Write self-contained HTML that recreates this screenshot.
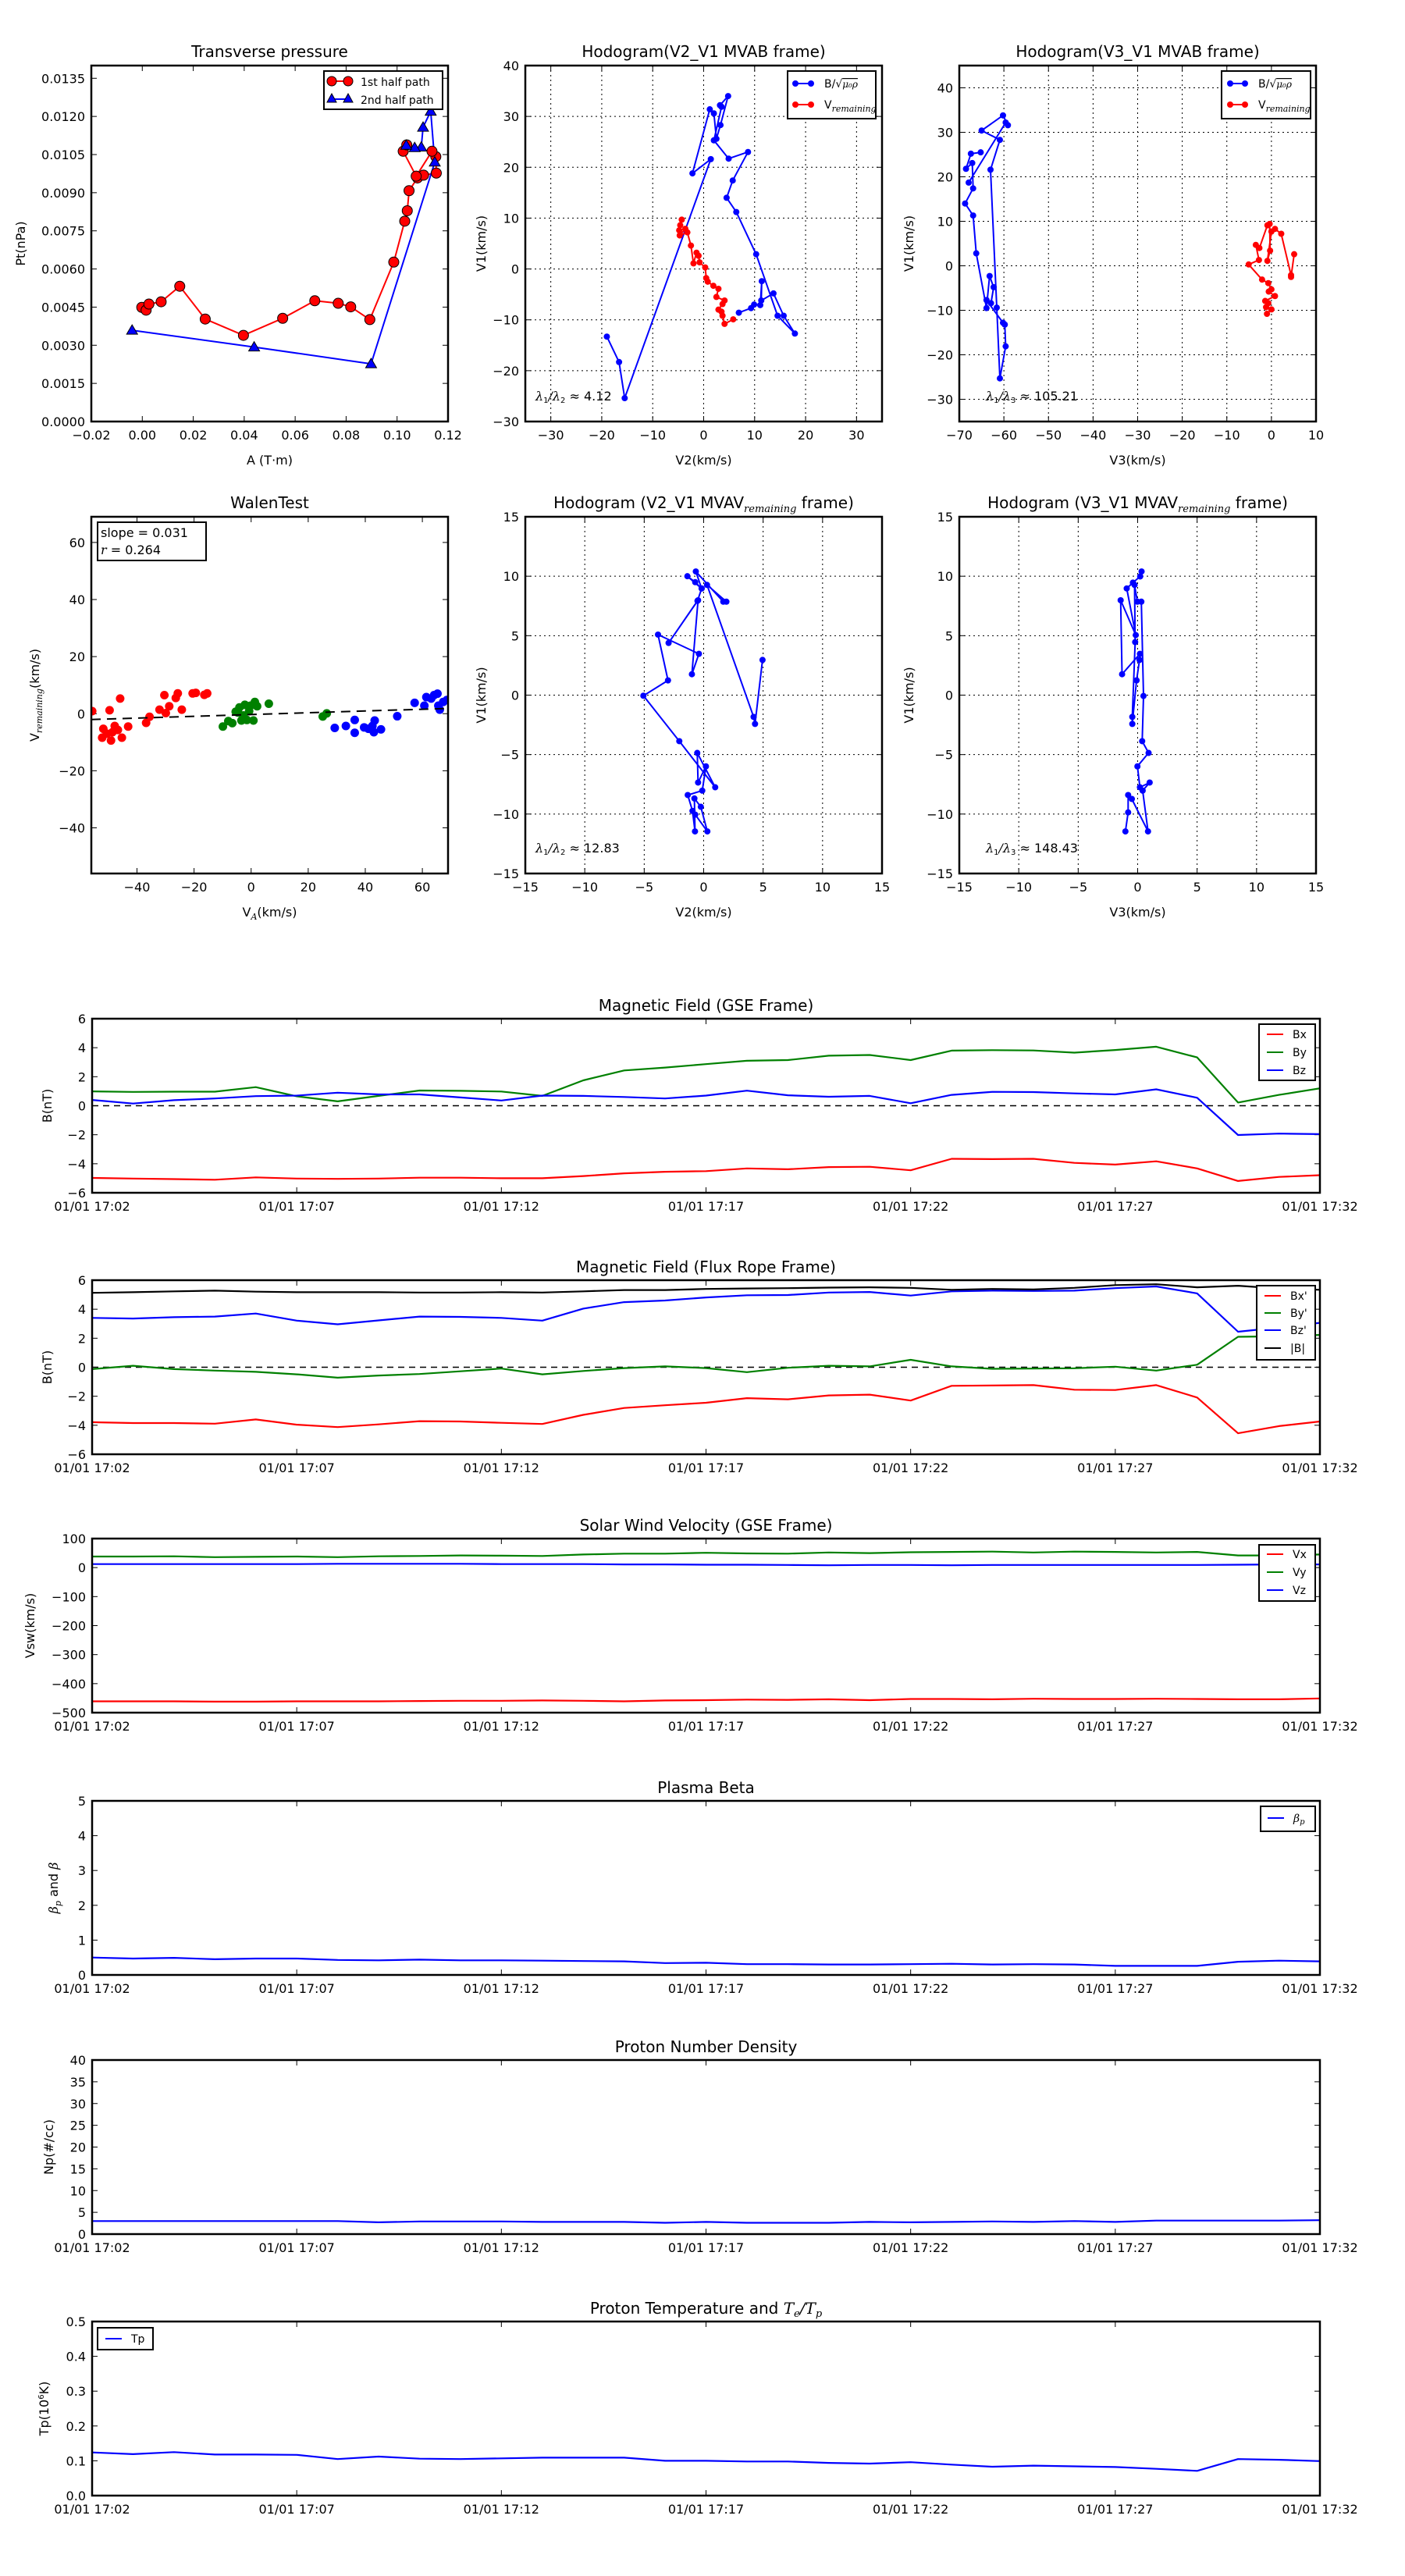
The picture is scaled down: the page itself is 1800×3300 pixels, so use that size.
<!DOCTYPE html>
<html><head><meta charset="utf-8">
<style>
html,body{margin:0;padding:0;background:#fff;}
svg{display:block;font-family:"DejaVu Sans","Liberation Sans",sans-serif;}
.tk{font-size:16px;fill:#000;}
.ttl{font-size:20px;fill:#000;}
.lab{font-size:16px;fill:#000;}
.lg{font-size:14px;fill:#000;}
.mi{font-family:"DejaVu Serif","Liberation Serif",serif;font-style:italic;}
</style></head>
<body>
<svg id="fig" xmlns="http://www.w3.org/2000/svg" width="1800" height="3300" viewBox="0 0 1800 3300">
<rect x="0" y="0" width="1800" height="3300" fill="#fff"/>
</svg>
<script>
// ---------- data ----------
const tpA1 = [-0.0002,0.0015,0.0026,0.0074,0.0147,0.0247,0.0397,0.0551,0.0677,0.0769,0.0818,0.0893,0.0987,0.103,0.104,0.1047,0.108,0.1104,0.1154,0.1152,0.1137,0.1075,0.1024,0.1038];
const tpP1 = [0.00449,0.00438,0.00462,0.00471,0.00532,0.00403,0.00339,0.00406,0.00475,0.00465,0.00451,0.00401,0.00627,0.00788,0.00829,0.00908,0.00958,0.00969,0.00977,0.01042,0.01063,0.00965,0.01063,0.01088];
const tpA2 = [-0.004,0.0439,0.0898,0.1148,0.1132,0.1102,0.1095,0.1069,0.1036];
const tpP2 = [0.00359,0.00293,0.00227,0.0102,0.0122,0.01157,0.01079,0.01077,0.01086];

const h1bx = [-19.0,-16.6,-15.5,1.4,-2.2,1.2,2.0,2.5,3.3,4.8,3.2,3.5,2.0,4.9,8.7,5.7,4.5,6.4,10.3,14.5,17.9,15.7,13.7,11.3,11.4,11.1,9.9,9.3,6.9];
const h1by = [-13.3,-18.3,-25.4,21.6,18.8,31.4,30.6,25.6,28.3,34.0,32.2,31.9,25.3,21.7,23.0,17.4,14.0,11.2,2.9,-9.2,-12.7,-9.2,-4.8,-6.2,-2.4,-7.1,-7.0,-7.7,-8.6];
const h1rx = [-4.3,-4.6,-4.8,-3.6,-4.7,-3.2,-2.5,-2.0,-1.4,-1.0,-0.8,0.3,0.5,0.8,1.9,2.9,2.5,4.1,3.7,2.9,3.5,3.7,4.1,5.8];
const h1ry = [9.7,8.6,7.6,7.9,6.6,7.2,4.6,1.1,3.2,2.6,1.3,0.3,-1.8,-2.5,-3.3,-3.9,-5.5,-6.2,-6.9,-8.0,-8.4,-9.2,-10.8,-9.9];

const h2bx = [-65.2,-67.4,-68.5,-67.1,-66.9,-68.7,-66.9,-66.2,-63.9,-63.2,-62.3,-62.9,-63.9,-60.2,-59.8,-59.6,-60.9,-61.6,-63.0,-60.9,-65.0,-60.2,-59.1,-59.6,-67.9];
const h2by = [25.5,25.2,21.8,23.1,17.4,14.0,11.3,2.8,-9.5,-2.3,-4.8,-8.4,-7.7,-12.8,-13.2,-18.1,-25.3,-9.4,21.6,28.3,30.4,33.8,31.6,32.2,18.7];
const h2rx = [-1.0,0.0,-1.2,-0.7,-1.4,0.8,-0.6,0.0,-0.7,-2.1,-5.1,-2.8,-3.5,-2.7,-0.9,-0.4,-0.3,-0.9,0.0,0.8,2.2,4.4,4.4,5.1];
const h2ry = [-10.8,-9.8,-9.3,-8.4,-7.9,-6.8,-5.8,-5.3,-3.9,-3.1,0.3,1.3,4.7,4.0,9.1,9.4,3.4,1.1,7.7,8.3,7.2,-2.1,-2.5,2.6];

const wRedX = [-55.7,-49.6,-45.9,-51.8,-52.2,-49.1,-50.6,-47.8,-46.7,-45.3,-48.6,-43.1,-36.8,-35.6,-32.1,-30.4,-29.9,-28.7,-26.4,-25.7,-24.3,-20.5,-19.4,-16.4,-15.4];
const wRedY = [0.9,1.2,5.3,-5.3,-8.4,-9.4,-7.0,-4.3,-5.7,-8.4,-6.5,-4.5,-3.2,-1.1,1.4,6.5,0.2,2.6,5.5,7.1,1.4,7.1,7.3,6.6,7.1];
const wGreenX = [-9.9,-8.0,-6.6,-5.4,-4.1,-3.4,-2.2,-1.5,-0.7,-0.2,0.8,1.3,2.1,-4.6,-2.7,6.2,25.1,26.5];
const wGreenY = [-4.5,-2.6,-3.3,0.7,2.2,-2.4,3.1,-2.2,0.9,2.8,-2.4,4.1,2.6,0.4,-0.6,3.5,-1.0,0.1];
const wBlueX = [29.3,33.2,36.3,36.3,39.6,41.1,42.5,43.3,43.0,45.5,51.2,57.3,60.7,61.4,64.1,65.3,65.6,66.1,67.3,68.6,63.1];
const wBlueY = [-5.0,-4.3,-2.2,-6.7,-4.8,-5.3,-4.3,-2.4,-6.5,-5.5,-0.9,3.8,2.8,5.8,6.5,7.0,2.8,1.4,4.1,4.8,5.3];
const wSlope = 0.031, wIntercept = -0.3;

const h3x = [4.95,4.32,4.2,0.28,1.91,1.65,-0.66,-0.17,-1.37,-0.71,-0.17,-0.52,-2.95,-0.47,-0.99,-0.4,-3.84,-3.0,-5.07,-2.05,0.97,-0.54,-0.47,0.19,-0.12,-1.34,-0.94,-0.73,-0.78,-0.24,0.31,-0.71];
const h3y = [2.96,-2.42,-1.83,9.27,7.86,7.86,10.4,8.97,10.0,9.5,8.97,7.93,4.39,7.98,1.76,3.47,5.09,1.24,-0.05,-3.87,-7.75,-4.86,-7.35,-5.99,-8.03,-8.4,-9.74,-11.46,-8.69,-9.39,-11.46,-10.05];
const h4x = [0.33,0.21,-0.4,-0.92,-0.16,-1.43,-1.31,0.19,0.16,-0.09,-0.45,-0.45,-0.21,-0.26,-0.02,0.31,0.49,0.38,0.92,-0.02,0.19,1.01,0.42,0.87,-0.49,-0.8,-0.8,-1.03];
const h4y = [10.4,9.98,9.46,8.97,5.05,7.98,1.76,3.47,2.96,1.24,-2.42,-1.83,4.46,9.27,7.86,7.86,-0.07,-3.87,-4.86,-5.99,-7.75,-7.35,-8.03,-11.46,-8.73,-8.4,-9.86,-11.46];

const timeLabels = ['01/01 17:02','01/01 17:07','01/01 17:12','01/01 17:17','01/01 17:22','01/01 17:27','01/01 17:32'];
const bx = [-4.98,-5.02,-5.06,-5.1,-4.94,-5.02,-5.04,-5.02,-4.96,-4.96,-5.0,-5.0,-4.85,-4.66,-4.55,-4.51,-4.32,-4.38,-4.23,-4.21,-4.45,-3.66,-3.68,-3.66,-3.94,-4.06,-3.83,-4.32,-5.19,-4.91,-4.79];
const by = [0.99,0.95,0.97,0.97,1.28,0.65,0.3,0.68,1.05,1.03,0.98,0.68,1.75,2.43,2.63,2.87,3.1,3.15,3.45,3.5,3.15,3.8,3.83,3.81,3.66,3.84,4.07,3.33,0.22,0.75,1.2];
const bz = [0.4,0.15,0.38,0.5,0.66,0.7,0.9,0.78,0.78,0.57,0.36,0.7,0.68,0.6,0.5,0.7,1.04,0.72,0.62,0.68,0.17,0.75,0.96,0.94,0.85,0.78,1.13,0.55,-2.02,-1.92,-1.96];
const bxp = [-3.79,-3.85,-3.85,-3.89,-3.6,-3.96,-4.13,-3.94,-3.72,-3.74,-3.83,-3.91,-3.28,-2.81,-2.62,-2.45,-2.13,-2.21,-1.94,-1.89,-2.3,-1.28,-1.26,-1.23,-1.55,-1.57,-1.23,-2.09,-4.55,-4.06,-3.74];
const byp = [-0.13,0.1,-0.13,-0.23,-0.32,-0.49,-0.72,-0.57,-0.47,-0.28,-0.09,-0.49,-0.26,-0.06,0.06,-0.06,-0.34,-0.04,0.1,0.06,0.51,0.06,-0.11,-0.09,-0.07,0.04,-0.23,0.17,2.1,2.13,2.23];
const bzp = [3.4,3.36,3.45,3.49,3.7,3.21,2.96,3.23,3.49,3.47,3.4,3.21,4.04,4.49,4.6,4.81,4.96,4.98,5.15,5.19,4.94,5.23,5.28,5.26,5.28,5.45,5.57,5.09,2.45,2.74,3.06];
const bmag = [5.13,5.17,5.23,5.28,5.21,5.17,5.17,5.17,5.15,5.15,5.17,5.15,5.23,5.32,5.32,5.4,5.43,5.45,5.49,5.51,5.47,5.34,5.4,5.36,5.47,5.66,5.72,5.51,5.62,5.43,5.34];
const vx = [-461,-461,-461,-462,-462,-461,-461,-461,-460,-459,-459,-458,-459,-461,-458,-457,-455,-456,-454,-457,-453,-453,-454,-452,-453,-453,-452,-453,-454,-454,-451];
const vy = [38,38,39,36,37,38,36,39,40,42,41,40,45,48,48,51,49,48,52,50,53,54,55,52,55,54,52,54,42,42,45];
const vz = [12,12,12,12,12,12,13,13,13,13,12,12,12,11,11,10,10,9,8,9,9,8,9,9,9,9,9,9,10,11,11];
const beta = [0.5,0.47,0.49,0.45,0.47,0.47,0.43,0.42,0.44,0.42,0.42,0.41,0.4,0.39,0.34,0.35,0.31,0.31,0.3,0.3,0.31,0.32,0.3,0.31,0.3,0.26,0.26,0.26,0.38,0.41,0.39];
const np = [3.0,3.0,3.0,3.0,3.0,3.0,3.0,2.7,2.9,2.9,2.9,2.8,2.8,2.8,2.6,2.8,2.6,2.6,2.6,2.8,2.7,2.8,2.9,2.8,3.0,2.8,3.1,3.1,3.1,3.1,3.2];
const tp = [0.124,0.119,0.125,0.118,0.118,0.117,0.105,0.112,0.106,0.105,0.107,0.109,0.109,0.109,0.1,0.1,0.098,0.098,0.094,0.092,0.096,0.089,0.083,0.086,0.084,0.082,0.077,0.071,0.105,0.103,0.099];

// ---------- helpers ----------
const NS = 'http://www.w3.org/2000/svg';
const svg = document.getElementById('fig');
function mk(tag, attrs, parent){
  const e = document.createElementNS(NS, tag);
  for (const k in attrs) e.setAttribute(k, attrs[k]);
  (parent || svg).appendChild(e);
  return e;
}
function txt(s, attrs, parent){ const e = mk('text', attrs, parent); e.textContent = s; return e; }
function minus(s){ return String(s).replace('-', '\u2212'); }
let clipId = 0;

function axes(o){
  const sx = v => o.x0 + (v - o.xd[0]) / (o.xd[1] - o.xd[0]) * (o.x1 - o.x0);
  const sy = v => o.y1 - (v - o.yd[0]) / (o.yd[1] - o.yd[0]) * (o.y1 - o.y0);
  const g = mk('g', {});
  
  
  // grid
  if (o.grid){
    o.xt.forEach(v => {
      const l = mk('line', {x1:sx(v), x2:sx(v), y1:o.y0, y2:o.y1, stroke:'#000', 'stroke-width':1, 'stroke-dasharray':'2,4'}, g);
      
      
    });
    o.yt.forEach(v => {
      const l = mk('line', {x1:o.x0, x2:o.x1, y1:sy(v), y2:sy(v), stroke:'#000', 'stroke-width':1, 'stroke-dasharray':'2,4'}, g);
      
      
    });
  }
  // ticks + labels
  o.xt.forEach((v, i) => {
    const X = sx(v);
    mk('line', {x1:X, x2:X, y1:o.y1, y2:o.y1 - 7, stroke:'#000', 'stroke-width':1}, g);
    mk('line', {x1:X, x2:X, y1:o.y0, y2:o.y0 + 7, stroke:'#000', 'stroke-width':1}, g);
    const t = txt(o.xl ? o.xl[i] : minus(o.xf(v)), {x:X, y:o.y1 + 23, 'text-anchor':'middle', class:'tk'}, g);
    
    
  });
  o.yt.forEach(v => {
    const Y = sy(v);
    mk('line', {x1:o.x0, x2:o.x0 + 7, y1:Y, y2:Y, stroke:'#000', 'stroke-width':1}, g);
    mk('line', {x1:o.x1, x2:o.x1 - 7, y1:Y, y2:Y, stroke:'#000', 'stroke-width':1}, g);
    const t = txt(minus(o.yf(v)), {x:o.x0 - 8, y:Y + 6, 'text-anchor':'end', class:'tk'}, g);
    
    
  });
  clipId++;
  const cp = mk('clipPath', {id:'c' + clipId}, g);
  mk('rect', {x:o.x0, y:o.y0, width:o.x1 - o.x0, height:o.y1 - o.y0}, cp);
  const plot = mk('g', {'clip-path':'url(#c' + clipId + ')'}, g);
  
  
  const fr = mk('rect', {x:o.x0, y:o.y0, width:o.x1 - o.x0, height:o.y1 - o.y0, fill:'none', stroke:'#000', 'stroke-width':2.5}, g);
  
  
  // title
  if (o.title){
    const t = txt('', {x:(o.x0 + o.x1) / 2, y:o.y0 - (o.tOff || 11), 'text-anchor':'middle', class:'ttl'}, g);
    t.innerHTML = o.title;
    
    
  }
  if (o.xlabel){
    const t = txt('', {x:(o.x0 + o.x1) / 2, y:o.y1 + 55, 'text-anchor':'middle', class:'lab'}, g);
    t.innerHTML = o.xlabel;
    
    
  }
  if (o.ylabel){
    const cy = (o.y0 + o.y1) / 2;
    const t = txt('', {x:o.ylx, y:cy, 'text-anchor':'middle', class:'lab', transform:'rotate(-90 ' + o.ylx + ' ' + cy + ')'}, g);
    t.innerHTML = o.ylabel;
    
    
  }
  return {sx, sy, g, plot};
}
function range(a, b, s){ const r = []; for (let v = a; v <= b + s * 1e-6; v += s) r.push(Math.round(v * 1e6) / 1e6); return r; }
function pathD(ax, xs, ys){ return xs.map((v, i) => (i ? 'L' : 'M') + ax.sx(v).toFixed(1) + ',' + ax.sy(ys[i]).toFixed(1)).join(''); }
function series(ax, xs, ys, color, name, dot, w){
  const p = mk('path', {d:pathD(ax, xs, ys), fill:'none', stroke:color, 'stroke-width':w || 2, 'stroke-linejoin':'round'}, ax.plot);
  
  
  if (dot){
    xs.forEach((v, i) => {
      const c = mk('circle', {cx:ax.sx(v), cy:ax.sy(ys[i]), r:dot, fill:color}, ax.plot);
      
      
    });
  }
}
function boxLegend(x, y, w, h){
  const r = mk('rect', {x, y, width:w, height:h, fill:'#fff', stroke:'#000', 'stroke-width':2});
  
  
}
function legLine(x1, x2, y, color, label, tx, dots){
  const l = mk('line', {x1, x2, y1:y, y2:y, stroke:color, 'stroke-width':2});
  
  
  if (dots){ mk('circle', {cx:x1, cy:y, r:4, fill:color}); mk('circle', {cx:x2, cy:y, r:4, fill:color}); }
  const t = txt('', {x:tx, y:y + 5, class:'lg'});
  t.innerHTML = label;
  
  
}
const VREM = 'V<tspan class="mi" font-size="11" dy="4">remaining</tspan>';
const BSQ = 'B/<tspan class="mi">√</tspan><tspan class="mi" text-decoration="overline" font-size="12">μ₀ρ</tspan>';

// ---------- Row 1 ----------
const a1 = axes({name:'transverse-pressure-chart', x0:117, x1:574, y0:84, y1:540, xd:[-0.02,0.12], yd:[0,0.014],
  xt:range(-0.02,0.12,0.02), yt:range(0,0.0135,0.0015), xf:v => v.toFixed(2), yf:v => v.toFixed(4),
  title:'Transverse pressure', xlabel:'A (T·m)', ylabel:'Pt(nPa)', ylx:32});
series(a1, tpA1, tpP1, '#f00', 'first-half-path', 0, 2);
series(a1, tpA2, tpP2, '#00f', 'second-half-path', 0, 2);
tpA1.forEach((v, i) => {
  const c = mk('circle', {cx:a1.sx(v), cy:a1.sy(tpP1[i]), r:6.5, fill:'#f00', stroke:'#000', 'stroke-width':1}, a1.plot);
  
  
});
tpA2.forEach((v, i) => {
  const X = a1.sx(v), Y = a1.sy(tpP2[i]);
  const c = mk('polygon', {points:(X) + ',' + (Y - 7) + ' ' + (X - 7) + ',' + (Y + 5) + ' ' + (X + 7) + ',' + (Y + 5), fill:'#00f', stroke:'#000', 'stroke-width':1}, a1.plot);
  
  
});
boxLegend(415, 91, 152, 49);
mk('line', {x1:425, x2:446, y1:104, y2:104, stroke:'#f00', 'stroke-width':2});
mk('circle', {cx:425, cy:104, r:6, fill:'#f00', stroke:'#000'}); mk('circle', {cx:446, cy:104, r:6, fill:'#f00', stroke:'#000'});
mk('line', {x1:425, x2:446, y1:127, y2:127, stroke:'#00f', 'stroke-width':2});
mk('polygon', {points:'425,120 419,131 431,131', fill:'#00f', stroke:'#000'}); mk('polygon', {points:'446,120 440,131 452,131', fill:'#00f', stroke:'#000'});
(function(){ const t = txt('1st half path', {x:462, y:110, class:'lg'});  
  const u = txt('2nd half path', {x:462, y:133, class:'lg'});   })();

const a2 = axes({name:'hodogram-v2-v1-mvab', x0:673, x1:1130, y0:84, y1:540, xd:[-35,35], yd:[-30,40],
  xt:range(-30,30,10), yt:range(-30,40,10), xf:v => String(v), yf:v => String(v), grid:true,
  title:'Hodogram(V2_V1 MVAB frame)', xlabel:'V2(km/s)', ylabel:'V1(km/s)', ylx:622});
series(a2, h1bx, h1by, '#00f', 'b-alfven', 4, 2);
series(a2, h1rx, h1ry, '#f00', 'v-remaining', 4, 2);
boxLegend(1009, 91, 113, 61);
legLine(1019, 1039, 107, '#00f', BSQ, 1056, true);
legLine(1019, 1039, 134, '#f00', VREM, 1056, true);
(function(){ const t = txt('', {x:686, y:513, class:'lab'}); t.innerHTML = '<tspan class="mi">λ</tspan><tspan font-size="10" dy="3">1</tspan><tspan dy="-3" class="mi">/λ</tspan><tspan font-size="10" dy="3">2</tspan><tspan dy="-3"> ≈ 4.12</tspan>';   })();

const a3 = axes({name:'hodogram-v3-v1-mvab', x0:1229, x1:1686, y0:84, y1:540, xd:[-70,10], yd:[-35,45],
  xt:range(-70,10,10), yt:range(-30,40,10), xf:v => String(v), yf:v => String(v), grid:true,
  title:'Hodogram(V3_V1 MVAB frame)', xlabel:'V3(km/s)', ylabel:'V1(km/s)', ylx:1170});
series(a3, h2bx, h2by, '#00f', 'b-alfven', 4, 2);
series(a3, h2rx, h2ry, '#f00', 'v-remaining', 4, 2);
boxLegend(1565, 91, 114, 61);
legLine(1576, 1595, 107, '#00f', BSQ, 1612, true);
legLine(1576, 1595, 134, '#f00', VREM, 1612, true);
(function(){ const t = txt('', {x:1263, y:513, class:'lab'}); t.innerHTML = '<tspan class="mi">λ</tspan><tspan font-size="10" dy="3">1</tspan><tspan dy="-3" class="mi">/λ</tspan><tspan font-size="10" dy="3">3</tspan><tspan dy="-3"> ≈ 105.21</tspan>';   })();

// ---------- Row 2 ----------
const a4 = axes({name:'walen-test-chart', x0:117, x1:574, y0:662, y1:1119, xd:[-56,69], yd:[-56,69],
  xt:range(-40,60,20), yt:range(-40,60,20), xf:v => String(v), yf:v => String(v),
  title:'WalenTest', xlabel:'V<tspan class="mi" font-size="11" dy="4">A</tspan><tspan dy="-4">(km/s)</tspan>', ylabel:VREM + '<tspan dy="-4">(km/s)</tspan>', ylx:50});
[[wRedX, wRedY, '#f00', 'walen-red'], [wGreenX, wGreenY, '#008000', 'walen-green'], [wBlueX, wBlueY, '#00f', 'walen-blue']].forEach(s => {
  s[0].forEach((v, i) => {
    const c = mk('circle', {cx:a4.sx(v), cy:a4.sy(s[1][i]), r:5.5, fill:s[2]}, a4.plot);
    
    
  });
});
(function(){ const l = mk('line', {x1:a4.sx(-56), x2:a4.sx(69), y1:a4.sy(wSlope * -56 + wIntercept), y2:a4.sy(wSlope * 69 + wIntercept), stroke:'#000', 'stroke-width':2, 'stroke-dasharray':'12,8'}, a4.plot);
    })();
boxLegend(125, 669, 139, 49);
(function(){ const t = txt('slope = 0.031', {x:129, y:688, class:'lab'});  
  const u = txt('', {x:129, y:710, class:'lab'}); u.innerHTML = '<tspan class="mi">r</tspan> = 0.264';   })();

const a5 = axes({name:'hodogram-v2-v1-mvav', x0:673, x1:1130, y0:662, y1:1119, xd:[-15,15], yd:[-15,15],
  xt:range(-15,15,5), yt:range(-15,15,5), xf:v => String(v), yf:v => String(v), grid:true,
  title:'Hodogram (V2_V1 MVAV<tspan class="mi" font-size="13" dy="5">remaining</tspan><tspan dy="-5"> frame)</tspan>', xlabel:'V2(km/s)', ylabel:'V1(km/s)', ylx:622});
series(a5, h3x, h3y, '#00f', 'hodogram-mvav-v2', 4, 2);
(function(){ const t = txt('', {x:686, y:1092, class:'lab'}); t.innerHTML = '<tspan class="mi">λ</tspan><tspan font-size="10" dy="3">1</tspan><tspan dy="-3" class="mi">/λ</tspan><tspan font-size="10" dy="3">2</tspan><tspan dy="-3"> ≈ 12.83</tspan>';   })();

const a6 = axes({name:'hodogram-v3-v1-mvav', x0:1229, x1:1686, y0:662, y1:1119, xd:[-15,15], yd:[-15,15],
  xt:range(-15,15,5), yt:range(-15,15,5), xf:v => String(v), yf:v => String(v), grid:true,
  title:'Hodogram (V3_V1 MVAV<tspan class="mi" font-size="13" dy="5">remaining</tspan><tspan dy="-5"> frame)</tspan>', xlabel:'V3(km/s)', ylabel:'V1(km/s)', ylx:1170});
series(a6, h4x, h4y, '#00f', 'hodogram-mvav-v3', 4, 2);
(function(){ const t = txt('', {x:1263, y:1092, class:'lab'}); t.innerHTML = '<tspan class="mi">λ</tspan><tspan font-size="10" dy="3">1</tspan><tspan dy="-3" class="mi">/λ</tspan><tspan font-size="10" dy="3">3</tspan><tspan dy="-3"> ≈ 148.43</tspan>';   })();

// ---------- Time series ----------
const minutes = bx.map((v, i) => i);
function tsAxes(name, top, yd, yt, yf, title, ylabel, ylx){
  return axes({name, x0:118, x1:1691, y0:top, y1:top + 223, xd:[0,30], yd, xt:[0,5,10,15,20,25,30], xl:timeLabels,
    yt, xf:v => String(v), yf, title, ylabel, ylx, tOff:10});
}
function zeroLine(ax){
  const l = mk('line', {x1:118, x2:1691, y1:ax.sy(0), y2:ax.sy(0), stroke:'#000', 'stroke-width':1.5, 'stroke-dasharray':'8,6'}, ax.plot);
   
}
const t1 = tsAxes('magnetic-field-gse-chart', 1305, [-6,6], range(-6,6,2), v => String(v), 'Magnetic Field (GSE Frame)', 'B(nT)', 66);
zeroLine(t1);
series(t1, minutes, bx, '#f00', 'bx', 0, 2.2);
series(t1, minutes, by, '#008000', 'by', 0, 2.2);
series(t1, minutes, bz, '#00f', 'bz', 0, 2.2);
boxLegend(1613, 1312, 72, 72);
legLine(1623, 1644, 1325, '#f00', 'Bx', 1656);
legLine(1623, 1644, 1348, '#008000', 'By', 1656);
legLine(1623, 1644, 1371, '#00f', 'Bz', 1656);

const t2 = tsAxes('magnetic-field-flux-rope-chart', 1640, [-6,6], range(-6,6,2), v => String(v), 'Magnetic Field (Flux Rope Frame)', 'B(nT)', 66);
zeroLine(t2);
series(t2, minutes, bxp, '#f00', 'bx-prime', 0, 2.2);
series(t2, minutes, byp, '#008000', 'by-prime', 0, 2.2);
series(t2, minutes, bzp, '#00f', 'bz-prime', 0, 2.2);
series(t2, minutes, bmag, '#000', 'b-magnitude', 0, 2.2);
boxLegend(1610, 1647, 75, 95);
legLine(1620, 1641, 1660, '#f00', "Bx'", 1653);
legLine(1620, 1641, 1682, '#008000', "By'", 1653);
legLine(1620, 1641, 1704, '#00f', "Bz'", 1653);
legLine(1620, 1641, 1727, '#000', '|B|', 1653);

const t3 = tsAxes('solar-wind-velocity-chart', 1971, [-500,100], range(-500,100,100), v => String(v), 'Solar Wind Velocity (GSE Frame)', 'Vsw(km/s)', 44);
series(t3, minutes, vx, '#f00', 'vx', 0, 2.2);
series(t3, minutes, vy, '#008000', 'vy', 0, 2.2);
series(t3, minutes, vz, '#00f', 'vz', 0, 2.2);
boxLegend(1613, 1979, 72, 72);
legLine(1623, 1644, 1991, '#f00', 'Vx', 1656);
legLine(1623, 1644, 2014, '#008000', 'Vy', 1656);
legLine(1623, 1644, 2037, '#00f', 'Vz', 1656);

const t4 = tsAxes('plasma-beta-chart', 2307, [0,5], range(0,5,1), v => String(v), 'Plasma Beta', '<tspan class="mi">β</tspan><tspan class="mi" font-size="11" dy="4">p</tspan><tspan dy="-4"> and </tspan><tspan class="mi">β</tspan>', 74);
series(t4, minutes, beta, '#00f', 'beta-p', 0, 2.2);
boxLegend(1615, 2314, 70, 32);
legLine(1624, 1645, 2329, '#00f', '<tspan class="mi">β</tspan><tspan class="mi" font-size="10" dy="3">p</tspan>', 1657);

const t5 = tsAxes('proton-density-chart', 2639, [0,40], range(0,40,5), v => String(v), 'Proton Number Density', 'Np(#/cc)', 68);
series(t5, minutes, np, '#00f', 'np', 0, 2.2);

const t6 = tsAxes('proton-temperature-chart', 2974, [0,0.5], range(0,0.5,0.1), v => v.toFixed(1), 'Proton Temperature and <tspan class="mi">T</tspan><tspan class="mi" font-size="13" dy="4">e</tspan><tspan class="mi" dy="-4">/T</tspan><tspan class="mi" font-size="13" dy="4">p</tspan>', 'Tp(10<tspan font-size="10" dy="-6">6</tspan><tspan dy="6">K)</tspan>', 62);
series(t6, minutes, tp, '#00f', 'tp', 0, 2.2);
boxLegend(125, 2982, 71, 28);
legLine(135, 156, 2996, '#00f', 'Tp', 168);
</script>
</body></html>
